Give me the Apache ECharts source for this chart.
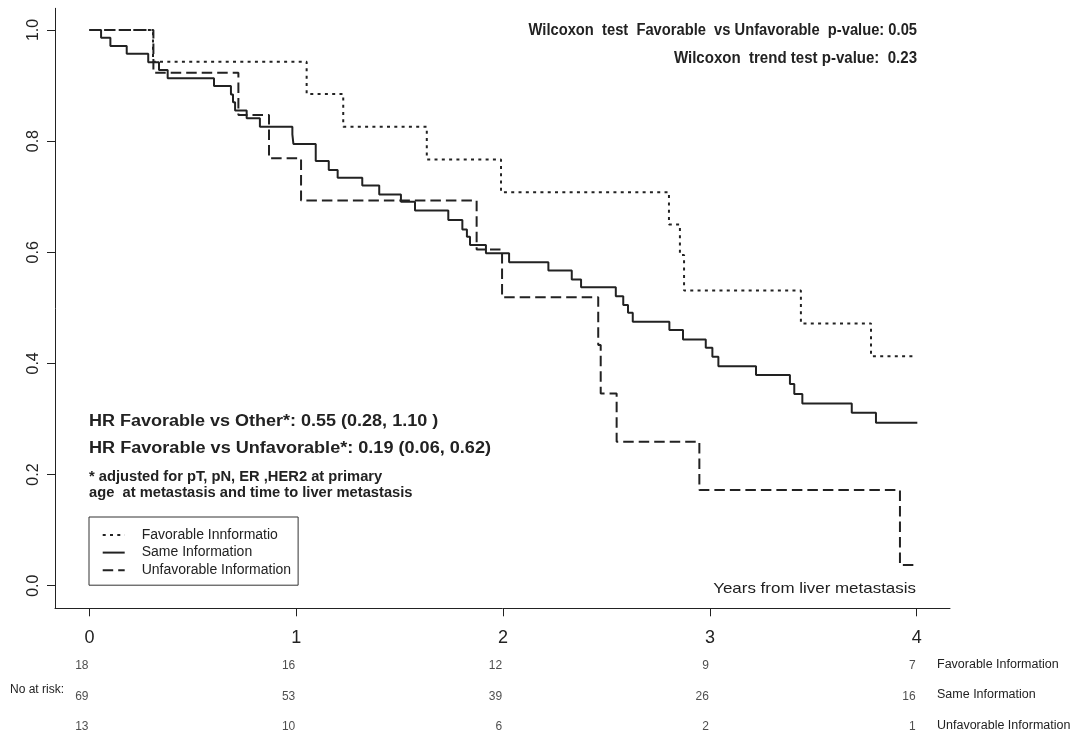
<!DOCTYPE html>
<html>
<head>
<meta charset="utf-8">
<script src="https://cdn.jsdelivr.net/npm/echarts@6/dist/echarts.min.js"></script>
<style>
  html, body { margin: 0; background: #fff; }
  #chart { width: 1073px; height: 734px; }
</style>
</head>
<body>
<div id="chart"></div>
<script>
// Kaplan-Meier steps (time in years, survival)
const favTime = [0, 0.307, 1.050, 1.227, 1.631, 1.990, 2.802, 2.855, 2.875, 3.440, 3.779, 3.995];
const favSurv = [1, 0.943, 0.885, 0.826, 0.767, 0.708, 0.650, 0.595, 0.531, 0.472, 0.413, 0.413];

const sameTime = [0, 0.056, 0.101, 0.180, 0.284, 0.336, 0.378, 0.602, 0.684, 0.694, 0.704, 0.760, 0.824,
  0.981, 0.986, 1.094, 1.157, 1.200, 1.319, 1.401, 1.506, 1.574, 1.735, 1.803, 1.825, 1.840, 1.917,
  2.029, 2.219, 2.332, 2.377, 2.545, 2.581, 2.604, 2.627, 2.804, 2.870, 2.980, 3.012, 3.041, 3.223,
  3.387, 3.408, 3.447, 3.686, 3.803, 4.003];
const sameSurv = [1, 0.986, 0.971, 0.957, 0.942, 0.928, 0.913, 0.899, 0.884, 0.870, 0.855, 0.841, 0.826,
  0.812, 0.795, 0.764, 0.748, 0.734, 0.720, 0.704, 0.691, 0.675, 0.658, 0.641, 0.628, 0.613, 0.598,
  0.582, 0.567, 0.551, 0.537, 0.521, 0.505, 0.491, 0.475, 0.460, 0.443, 0.428, 0.412, 0.395, 0.379,
  0.363, 0.345, 0.328, 0.311, 0.293, 0.293];

const unfTime = [0, 0.309, 0.720, 0.868, 1.023, 1.872, 1.995, 2.460, 2.472, 2.549, 2.949, 3.919, 3.995];
const unfSurv = [1, 0.923, 0.847, 0.769, 0.693, 0.605, 0.519, 0.433, 0.346, 0.259, 0.172, 0.037, 0.037];

const seriesNames = ['Favorable Innformatio', 'Same Information', 'Unfavorable Information'];

// number at risk table
const riskTimes = [0, 1, 2, 3, 4];
const riskFav = [18, 16, 12, 9, 7];
const riskSame = [69, 53, 39, 26, 16];
const riskUnf = [13, 10, 6, 2, 1];
const riskRows = ['Favorable Information', 'Same Information', 'Unfavorable Information'];

const xTicks = [0, 1, 2, 3, 4];
const yTicks = [0, 0.2, 0.4, 0.6, 0.8, 1.0];

const FONT = '"Liberation Sans", Arial, Helvetica, sans-serif';
const INK = '#222';

const zip = (xs, ys) => xs.map((x, i) => [x, ys[i]]);

const riskData = [];
[riskFav, riskSame, riskUnf].forEach((row, r) => {
  row.forEach((n, i) => riskData.push([riskTimes[i], r, n]));
});

function kmSeries(name, xs, ys, dash) {
  return {
    name: name,
    type: 'line',
    step: 'end',
    symbol: 'none',
    xAxisIndex: 0,
    yAxisIndex: 0,
    data: zip(xs, ys),
    itemStyle: { color: INK },
    lineStyle: { color: INK, width: 2, type: dash }
  };
}

// text placed at (x, y); sx stretches it horizontally around its anchor
function txt(text, x, y, font, align, sx) {
  return {
    type: 'text',
    x: x, y: y,
    scaleX: sx || 1,
    style: {
      text: text, x: 0, y: 0, font: font, fill: INK,
      align: align || 'left', textAlign: align || 'left',
      verticalAlign: 'middle', textVerticalAlign: 'middle'
    }
  };
}

const chart = echarts.init(document.getElementById('chart'));
chart.setOption({
  animation: false,
  backgroundColor: '#fff',
  grid: [
    { left: 55, top: 8.3, width: 895, height: 600 },
    { left: 55, top: 650, width: 895, height: 80 }
  ],
  xAxis: [
    {
      type: 'value', gridIndex: 0, min: -0.1668, max: 4.161,
      axisLine: { show: true, onZero: false, lineStyle: { color: INK, width: 1 } },
      axisTick: { show: true, customValues: xTicks, length: 8, lineStyle: { color: INK } },
      axisLabel: { customValues: xTicks, fontSize: 18, color: INK, margin: 21, fontFamily: FONT },
      splitLine: { show: false }
    },
    {
      type: 'value', gridIndex: 1, min: -0.1668, max: 4.161, show: false
    }
  ],
  yAxis: [
    {
      type: 'value', gridIndex: 0, min: -0.0407, max: 1.039,
      axisLine: { show: true, onZero: false, lineStyle: { color: INK, width: 1 } },
      axisTick: { show: true, customValues: yTicks, length: 8, lineStyle: { color: INK } },
      axisLabel: {
        customValues: yTicks, rotate: 90, fontSize: 16, color: INK, margin: 13, fontFamily: FONT,
        formatter: v => v.toFixed(1)
      },
      splitLine: { show: false }
    },
    {
      // rows of the at-risk table: 0 = top row
      type: 'value', gridIndex: 1, min: -0.525, max: 2.098, inverse: true, show: false
    }
  ],
  legend: {
    orient: 'vertical',
    left: 89, top: 517,
    itemWidth: 22, itemHeight: 14, itemGap: 3.6,
    padding: [11, 7, 8, 12.7],
    borderColor: '#333', borderWidth: 1, borderRadius: 0,
    itemStyle: { opacity: 0 },
    textStyle: { fontSize: 14, color: INK, fontFamily: FONT, padding: [0, 0, 0, 12] },
    data: seriesNames
  },
  series: [
    kmSeries(seriesNames[0], favTime, favSurv, [3, 4.3]),
    kmSeries(seriesNames[1], sameTime, sameSurv, 'solid'),
    kmSeries(seriesNames[2], unfTime, unfSurv, [10.5, 5]),
    {
      name: 'risk',
      type: 'scatter',
      xAxisIndex: 1, yAxisIndex: 1,
      symbolSize: 0,
      data: riskData,
      label: {
        show: true, position: 'left', distance: 1,
        formatter: p => p.value[2],
        fontSize: 12, color: INK, fontFamily: FONT
      }
    }
  ],
  graphic: [
    txt('Wilcoxon  test  Favorable  vs Unfavorable  p-value: 0.05', 917, 31, 'bold 16px ' + FONT, 'right', 0.92),
    txt('Wilcoxon  trend test p-value:  0.23', 917, 59, 'bold 16px ' + FONT, 'right', 0.94),
    txt('HR Favorable vs Other*: 0.55 (0.28, 1.10 )', 89, 422, 'bold 16px ' + FONT, 'left', 1.125),
    txt('HR Favorable vs Unfavorable*: 0.19 (0.06, 0.62)', 89, 448.5, 'bold 16px ' + FONT, 'left', 1.13),
    txt('* adjusted for pT, pN, ER ,HER2 at primary', 89, 477.5, 'bold 14px ' + FONT, 'left', 1.05),
    txt('age  at metastasis and time to liver metastasis', 89, 493, 'bold 14px ' + FONT, 'left', 1.05),
    txt('Years from liver metastasis', 916, 588.5, '15px ' + FONT, 'right', 1.13),
    txt('No at risk:', 10, 690, '12px ' + FONT),
    txt(riskRows[0], 937, 665, '12.5px ' + FONT),
    txt(riskRows[1], 937, 695, '12.5px ' + FONT),
    txt(riskRows[2], 937, 726, '12.5px ' + FONT)
  ]
});
</script>
</body>
</html>
